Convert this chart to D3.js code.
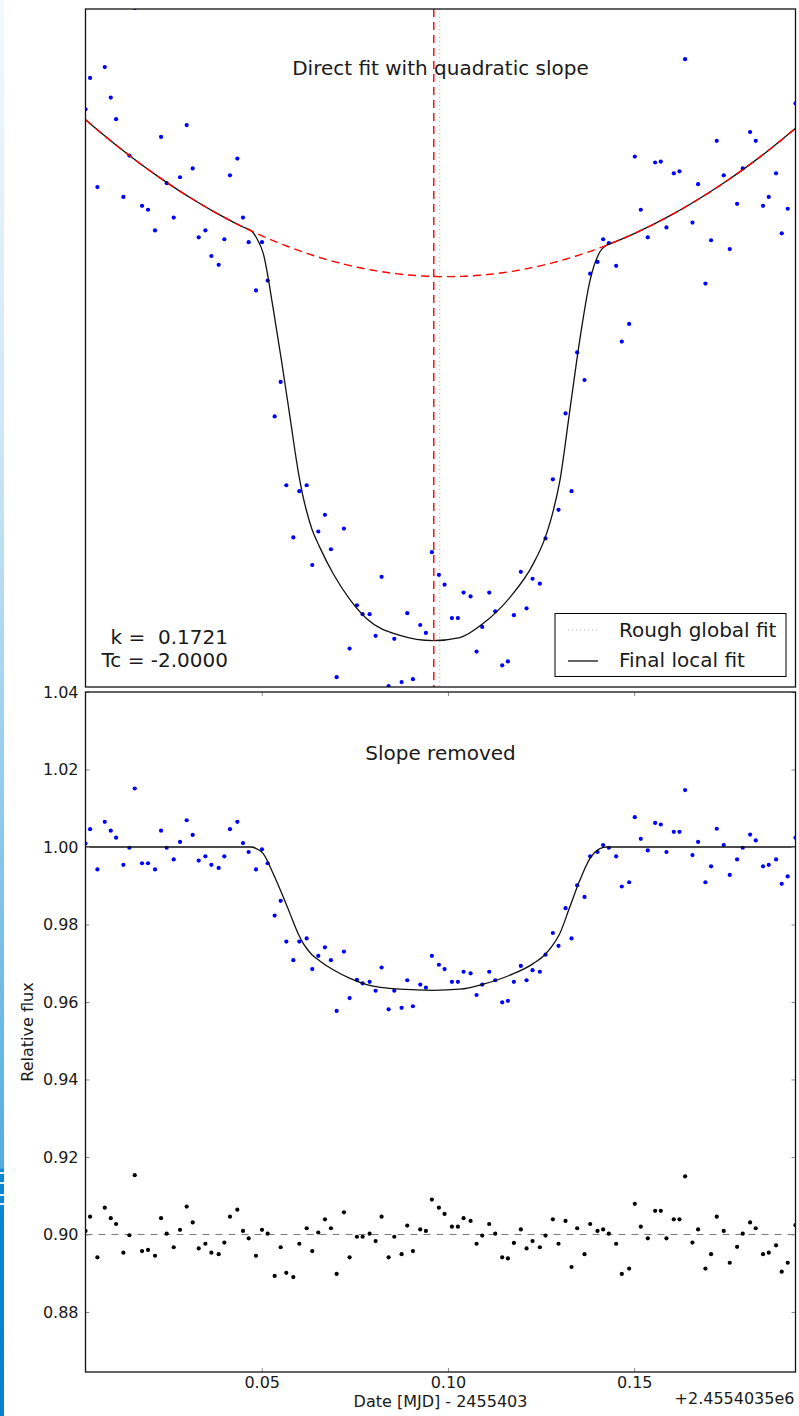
<!DOCTYPE html>
<html>
<head>
<meta charset="utf-8">
<script src="https://cdn.jsdelivr.net/npm/d3@7"></script>
<style>
  html, body { margin: 0; padding: 0; background: #fff; }
  svg { display: block; }
  text { font-family: "DejaVu Sans", "Liberation Sans", sans-serif; fill: #1a1a1a; }
</style>
</head>
<body>
<svg id="chart" width="799" height="1416"></svg>
<script>
// Observation times (days, relative to 2455403.5)
const times = [
  0.0027, 0.00393, 0.00590, 0.00787, 0.00948, 0.01091, 0.01287, 0.01448, 0.01592, 0.01788,
  0.01949, 0.02137, 0.02298, 0.02450, 0.02638, 0.02808, 0.02987, 0.03148, 0.03309, 0.03488,
  0.03649, 0.03845, 0.03997, 0.04149, 0.04346, 0.04498, 0.04650, 0.04847, 0.05008, 0.05160,
  0.05348, 0.05509, 0.05661, 0.05849, 0.06010, 0.06207, 0.06358, 0.06519, 0.06698, 0.06859,
  0.07012, 0.07208, 0.07360, 0.07557, 0.07709, 0.07897, 0.08058, 0.08219, 0.08407, 0.08559,
  0.08756, 0.08907, 0.09060, 0.09256, 0.09408, 0.09569, 0.09757, 0.09909, 0.10106, 0.10267,
  0.10419, 0.10607, 0.10768, 0.10920, 0.11108, 0.11269, 0.11456, 0.11609, 0.11770, 0.11957,
  0.12110, 0.12271, 0.12467, 0.12619, 0.12816, 0.12968, 0.13156, 0.13317, 0.13469, 0.13666,
  0.13818, 0.14015, 0.14166, 0.14319, 0.14515, 0.14667, 0.14864, 0.15016, 0.15177, 0.15365,
  0.15562, 0.15714, 0.15866, 0.16063, 0.16215, 0.16367, 0.16564, 0.16715, 0.16912, 0.17064,
  0.17216, 0.17404, 0.17565, 0.17762, 0.17914, 0.18111, 0.18263, 0.18459, 0.18612, 0.18808,
  0.18960, 0.19121, 0.1933
];

// Raw photometry, before the quadratic slope is divided out
const rawFlux = [
  1.0170, 1.0202, 1.0091, 1.0213, 1.0182, 1.0160, 1.0081, 1.0123, 1.0273, 1.0072,
  1.0068, 1.0047, 1.0142, 1.0095, 1.0060, 1.0101, 1.0154, 1.0110, 1.0040, 1.0047,
  1.0021, 1.0012, 1.0038, 1.0103, 1.0120, 1.0060, 1.0035, 0.9986, 1.0035, 0.9996,
  0.9858, 0.9893, 0.9788, 0.9735, 0.9782, 0.9788, 0.9707, 0.9741, 0.9758, 0.9723,
  0.9593, 0.9744, 0.9622, 0.9666, 0.9657, 0.9657, 0.9635, 0.9695, 0.9584, 0.9632,
  0.9588, 0.9658, 0.9591, 0.9646, 0.9638, 0.9720, 0.9697, 0.9687, 0.9653, 0.9653,
  0.9679, 0.9675, 0.9619, 0.9644, 0.9679, 0.9660, 0.9605, 0.9609, 0.9656, 0.9700,
  0.9663, 0.9693, 0.9688, 0.9734, 0.9794, 0.9763, 0.9861, 0.9782, 0.9923, 0.9895,
  1.0003, 1.0015, 1.0038, 1.0034, 1.0011, 0.9934, 0.9952, 1.0122, 1.0068, 1.0040,
  1.0116, 1.0117, 1.0050, 1.0105, 1.0107, 1.0221, 1.0055, 1.0094, 0.9993, 1.0037,
  1.0138, 1.0103, 1.0028, 1.0074, 1.0110, 1.0147, 1.0138, 1.0072, 1.0081, 1.0105,
  1.0044, 1.0069, 1.0176
];

// Relative flux after the slope is removed
const flux = [
  1.0009, 1.0046, 0.9942, 1.0065, 1.0042, 1.0024, 0.9954, 0.9998, 1.0151, 0.9958,
  0.9958, 0.9942, 1.0042, 0.9998, 0.9968, 1.0013, 1.0069, 1.0031, 0.9965, 0.9976,
  0.9954, 0.9946, 0.9976, 1.0046, 1.0065, 1.0010, 0.9987, 0.9942, 0.9994, 0.9958,
  0.9823, 0.9861, 0.9756, 0.9708, 0.9756, 0.9764, 0.9685, 0.9719, 0.9741, 0.9708,
  0.9577, 0.9730, 0.9610, 0.9657, 0.9648, 0.9652, 0.9629, 0.9689, 0.9581, 0.9629,
  0.9585, 0.9656, 0.9589, 0.9645, 0.9637, 0.9719, 0.9696, 0.9685, 0.9652, 0.9652,
  0.9678, 0.9674, 0.9618, 0.9645, 0.9678, 0.9656, 0.9599, 0.9603, 0.9652, 0.9693,
  0.9656, 0.9682, 0.9678, 0.9722, 0.9778, 0.9745, 0.9842, 0.9764, 0.9901, 0.9871,
  0.9976, 0.9987, 1.0005, 0.9998, 0.9976, 0.9898, 0.9909, 1.0077, 1.0021, 0.9991,
  1.0062, 1.0058, 0.9987, 1.0039, 1.0039, 1.0147, 0.9979, 1.0013, 0.9909, 0.9950,
  1.0047, 1.0005, 0.9928, 0.9968, 0.9998, 1.0032, 1.0017, 0.9950, 0.9954, 0.9968,
  0.9905, 0.9924, 1.0024
];

// Fit residuals, shifted to sit around 0.90
const residuals = [
  0.9009, 0.9046, 0.8941, 0.9069, 0.9042, 0.9027, 0.8953, 0.8998, 0.9153, 0.8957,
  0.8960, 0.8945, 0.9042, 0.9002, 0.8967, 0.9012, 0.9072, 0.9031, 0.8964, 0.8976,
  0.8953, 0.8949, 0.8979, 0.9046, 0.9064, 0.9009, 0.8990, 0.8945, 0.9012, 0.9002,
  0.8893, 0.8967, 0.8901, 0.8890, 0.8976, 0.9016, 0.8957, 0.9005, 0.9039, 0.9016,
  0.8898, 0.9057, 0.8941, 0.8994, 0.8994, 0.9002, 0.8983, 0.9046, 0.8941, 0.8994,
  0.8949, 0.9023, 0.8957, 0.9013, 0.9009, 0.9090, 0.9069, 0.9053, 0.9020, 0.9020,
  0.9042, 0.9035, 0.8976, 0.8997, 0.9027, 0.9002, 0.8941, 0.8938, 0.8978, 0.9013,
  0.8964, 0.8983, 0.8967, 0.8997, 0.9039, 0.8976, 0.9035, 0.8916, 0.9016, 0.8949,
  0.9027, 0.9009, 0.9013, 0.9002, 0.8976, 0.8898, 0.8912, 0.9079, 0.9020, 0.8990,
  0.9061, 0.9061, 0.8990, 0.9039, 0.9039, 0.9150, 0.8979, 0.9013, 0.8912, 0.8949,
  0.9046, 0.9009, 0.8927, 0.8968, 0.9002, 0.9031, 0.9016, 0.8949, 0.8953, 0.8972,
  0.8904, 0.8927, 0.9024
];

// Final local transit model, sampled at knot times
const modelTimes = [
  0.0027, 0.0075, 0.0125, 0.0175, 0.0225, 0.0275, 0.0325, 0.0375, 0.0425, 0.0450, 0.0473,
  0.0487, 0.0504, 0.0531, 0.0554, 0.0576, 0.0598, 0.0611, 0.0621,
  0.0635, 0.0656, 0.0692, 0.0737, 0.0782, 0.0871, 0.0960, 0.1032, 0.1095, 0.1166, 0.1229, 0.1260, 0.1278,
  0.1300, 0.1327, 0.1354, 0.1381, 0.1408, 0.1426,
  0.1450, 0.1500, 0.1550, 0.1600, 0.1650, 0.1700, 0.1750, 0.1800, 0.1850, 0.1900, 0.1933
];
const modelFlux = [
  1, 1, 1, 1, 1, 1, 1, 1, 1, 1, 1,
  0.9995, 0.9983, 0.9931, 0.9880, 0.9828, 0.9776, 0.9752, 0.9738,
  0.9722, 0.9706, 0.9683, 0.9661, 0.9645, 0.9633, 0.9630, 0.9633, 0.9646, 0.9669, 0.9699, 0.9722, 0.9742,
  0.9776, 0.9845, 0.9914, 0.9970, 0.9996, 1,
  1, 1, 1, 1, 1, 1, 1, 1, 1, 1, 1
];

// Quadratic baseline: 1 + c * (t - t0)^2
const slopeVertex = 0.09937;
const slopeCurvature = 1.708;

// Mid-transit times: final local fit and rough global fit
const tcLocal = 0.0962;
const tcRough = 0.0978;

const fitLabels = ["k =  0.1721", "Tc = -2.0000"];
const legendLabels = ["Rough global fit", "Final local fit"];

const xTicks = [0.05, 0.10, 0.15];
const yTicks = [0.88, 0.90, 0.92, 0.94, 0.96, 0.98, 1.00, 1.02, 1.04];
const topFluxRange = [0.9583, 1.0272];
const bottomFluxRange = [0.8645, 1.04];
const residualLevel = 0.90;

// ---------------------------------------------------------------
const svg = d3.select("#chart");
const L = 85.5, R = 795.5;
const topBox = { y0: 9, y1: 687 };
const botBox = { y0: 692, y1: 1372 };

const x = d3.scaleLinear().domain(d3.extent(times)).range([L, R]);
const yTop = d3.scaleLinear().domain(topFluxRange).range([topBox.y1, topBox.y0]);
const yBot = d3.scaleLinear().domain(bottomFluxRange).range([botBox.y1, botBox.y0]);
const slope = t => 1 + slopeCurvature * (t - slopeVertex) ** 2;

svg.append("rect").attr("width", 799).attr("height", 1416).attr("fill", "#fff");

const defs = svg.append("defs");
// page-edge strip
const grad = defs.append("linearGradient").attr("id", "edge").attr("x1", 0).attr("y1", 0).attr("x2", 0).attr("y2", 1);
[[0, "#f3f9fe"], [0.3, "#cfe7f6"], [0.5, "#a2d2ef"], [0.75, "#66b6e3"], [0.825, "#55acdf"],
 [0.826, "#0a88d2"], [1, "#0780cc"]].forEach(([o, c]) => grad.append("stop").attr("offset", o).attr("stop-color", c));
defs.append("clipPath").attr("id", "clipTop").append("rect")
  .attr("x", L).attr("y", topBox.y0).attr("width", R - L).attr("height", topBox.y1 - topBox.y0);
defs.append("clipPath").attr("id", "clipBot").append("rect")
  .attr("x", L).attr("y", botBox.y0).attr("width", R - L).attr("height", botBox.y1 - botBox.y0);

svg.append("rect").attr("x", 0).attr("y", 0).attr("width", 4).attr("height", 1416).attr("fill", "url(#edge)");
[1172, 1182, 1194, 1203].forEach(yy =>
  svg.append("rect").attr("x", 0).attr("y", yy).attr("width", 4).attr("height", 2).attr("fill", "#d8eefa"));

// ===== Top panel: direct fit with quadratic slope =====
const gTop = svg.append("g").attr("clip-path", "url(#clipTop)");

gTop.append("line")
  .attr("x1", x(tcRough)).attr("x2", x(tcRough)).attr("y1", topBox.y0).attr("y2", topBox.y1)
  .attr("stroke", "#b0b0b0").attr("stroke-width", 1).attr("stroke-dasharray", "1,3");

gTop.selectAll("circle.raw").data(times).join("circle").attr("class", "raw")
  .attr("cx", d => x(d)).attr("cy", (d, i) => yTop(rawFlux[i])).attr("r", 2.1).attr("fill", "#0000ff");

const topModel = modelTimes.map((t, i) => [t, modelFlux[i] * slope(t)]);
gTop.append("path").datum(topModel)
  .attr("d", d3.line().x(d => x(d[0])).y(d => yTop(d[1])).curve(d3.curveMonotoneX))
  .attr("fill", "none").attr("stroke", "#111").attr("stroke-width", 1.3);

const tGrid = d3.range(0, 201).map(i => x.domain()[0] + (x.domain()[1] - x.domain()[0]) * i / 200);
gTop.append("path").datum(tGrid)
  .attr("d", d3.line().x(t => x(t)).y(t => yTop(slope(t))))
  .attr("fill", "none").attr("stroke", "#ff0000").attr("stroke-width", 1.4).attr("stroke-dasharray", "8,5");

gTop.append("line")
  .attr("x1", x(tcLocal)).attr("x2", x(tcLocal)).attr("y1", topBox.y0).attr("y2", topBox.y1)
  .attr("stroke", "#ff0000").attr("stroke-width", 1.4).attr("stroke-dasharray", "8,5");

svg.append("text").attr("x", (L + R) / 2).attr("y", 75).attr("text-anchor", "middle")
  .attr("font-size", 20).text("Direct fit with quadratic slope");

svg.selectAll("text.fit").data(fitLabels).join("text").attr("class", "fit")
  .attr("x", 228).attr("y", (d, i) => 644 + i * 23).attr("text-anchor", "end")
  .attr("font-size", 20).style("white-space", "pre").text(d => d);

// legend
const lg = svg.append("g");
lg.append("rect").attr("x", 555).attr("y", 613.5).attr("width", 231).attr("height", 63)
  .attr("fill", "#fff").attr("stroke", "#000").attr("stroke-width", 1);
lg.append("line").attr("x1", 568).attr("x2", 598).attr("y1", 630).attr("y2", 630)
  .attr("stroke", "#b0b0b0").attr("stroke-width", 1).attr("stroke-dasharray", "1,3");
lg.append("line").attr("x1", 568).attr("x2", 598).attr("y1", 661).attr("y2", 661)
  .attr("stroke", "#111").attr("stroke-width", 1.3);
lg.selectAll("text").data(legendLabels).join("text")
  .attr("x", 619).attr("y", (d, i) => 637 + i * 30).attr("font-size", 20).text(d => d);

svg.append("rect").attr("x", L).attr("y", topBox.y0).attr("width", R - L).attr("height", topBox.y1 - topBox.y0)
  .attr("fill", "none").attr("stroke", "#111").attr("stroke-width", 1.3);

// ===== Bottom panel: slope removed =====
const gBot = svg.append("g").attr("clip-path", "url(#clipBot)");

gBot.append("line").attr("x1", L).attr("x2", R).attr("y1", yBot(residualLevel)).attr("y2", yBot(residualLevel))
  .attr("stroke", "#777").attr("stroke-width", 1).attr("stroke-dasharray", "7,6");

gBot.selectAll("circle.flux").data(times).join("circle").attr("class", "flux")
  .attr("cx", d => x(d)).attr("cy", (d, i) => yBot(flux[i])).attr("r", 2.1).attr("fill", "#0000ff");

gBot.selectAll("circle.res").data(times).join("circle").attr("class", "res")
  .attr("cx", d => x(d)).attr("cy", (d, i) => yBot(residuals[i])).attr("r", 2.1).attr("fill", "#000");

gBot.append("path").datum(modelTimes.map((t, i) => [t, modelFlux[i]]))
  .attr("d", d3.line().x(d => x(d[0])).y(d => yBot(d[1])).curve(d3.curveMonotoneX))
  .attr("fill", "none").attr("stroke", "#111").attr("stroke-width", 1.3);

svg.append("text").attr("x", (L + R) / 2).attr("y", 760).attr("text-anchor", "middle")
  .attr("font-size", 20).text("Slope removed");

// axes with inward ticks
const fmt = d3.format(".2f");
function styleAxis(g) {
  g.select(".domain").remove();
  g.selectAll(".tick line").attr("stroke", "#8a8a8a").attr("stroke-width", 1);
  g.selectAll(".tick text").attr("font-size", 16).attr("font-family", "DejaVu Sans, sans-serif").attr("fill", "#1a1a1a");
}
svg.append("g").attr("transform", `translate(${L},0)`)
  .call(d3.axisLeft(yBot).tickValues(yTicks).tickFormat(fmt).tickSizeInner(-4).tickSizeOuter(0).tickPadding(7))
  .call(styleAxis);
svg.append("g").attr("transform", `translate(${R},0)`)
  .call(d3.axisRight(yBot).tickValues(yTicks).tickFormat("").tickSizeInner(-4).tickSizeOuter(0))
  .call(styleAxis);
svg.append("g").attr("transform", `translate(0,${botBox.y1})`)
  .call(d3.axisBottom(x).tickValues(xTicks).tickFormat(fmt).tickSizeInner(-4).tickSizeOuter(0).tickPadding(5))
  .call(styleAxis);
svg.append("g").attr("transform", `translate(0,${botBox.y0})`)
  .call(d3.axisTop(x).tickValues(xTicks).tickFormat("").tickSizeInner(-4).tickSizeOuter(0))
  .call(styleAxis);

svg.append("rect").attr("x", L).attr("y", botBox.y0).attr("width", R - L).attr("height", botBox.y1 - botBox.y0)
  .attr("fill", "none").attr("stroke", "#111").attr("stroke-width", 1.3);

svg.append("text").attr("transform", `translate(33,${(botBox.y0 + botBox.y1) / 2}) rotate(-90)`)
  .attr("text-anchor", "middle").attr("font-size", 16).text("Relative flux");
svg.append("text").attr("x", (L + R) / 2).attr("y", 1406.5).attr("text-anchor", "middle")
  .attr("font-size", 16).text("Date [MJD] - 2455403");
svg.append("text").attr("x", 794.5).attr("y", 1403.5).attr("text-anchor", "end")
  .attr("font-size", 16).text("+2.4554035e6");
</script>
</body>
</html>
